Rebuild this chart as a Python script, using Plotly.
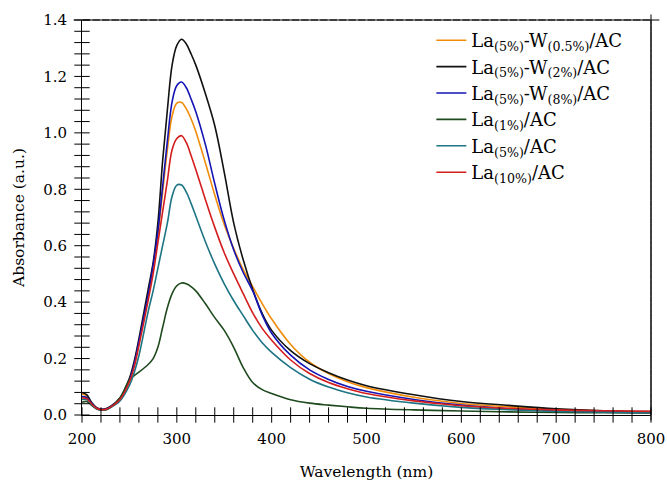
import plotly.graph_objects as go

# Wavelength grid (nm)
wavelength = [200, 205, 210, 215, 220, 225, 230, 240, 250, 255, 260, 270, 275, 280, 285,
              290, 295, 300, 305, 310, 315, 320, 330, 340, 350, 360, 370, 380, 390, 400,
              420, 440, 460, 480, 500, 550, 600, 650, 700, 750, 800]

# Absorbance spectra (a.u.)
la5_w05 = [0.075, 0.068, 0.043, 0.026, 0.020, 0.021, 0.029, 0.058, 0.122, 0.18, 0.255, 0.43, 0.53, 0.64, 0.79,
           0.94, 1.06, 1.105, 1.108, 1.085, 1.05, 1.005, 0.895, 0.78, 0.675, 0.59, 0.515, 0.455, 0.395, 0.34,
           0.25, 0.187, 0.147, 0.118, 0.097, 0.063, 0.041, 0.029, 0.020, 0.014, 0.011]
la5_w2 = [0.080, 0.072, 0.045, 0.027, 0.021, 0.022, 0.030, 0.060, 0.130, 0.19, 0.27, 0.45, 0.54, 0.68, 0.90,
          1.08, 1.24, 1.31, 1.332, 1.315, 1.28, 1.24, 1.14, 1.025, 0.86, 0.68, 0.55, 0.445, 0.36, 0.30,
          0.228, 0.182, 0.150, 0.124, 0.104, 0.072, 0.048, 0.034, 0.022, 0.015, 0.012]
la5_w8 = [0.065, 0.062, 0.042, 0.026, 0.020, 0.021, 0.029, 0.058, 0.124, 0.18, 0.26, 0.43, 0.53, 0.65, 0.81,
          0.97, 1.11, 1.168, 1.18, 1.16, 1.12, 1.075, 0.96, 0.82, 0.69, 0.585, 0.505, 0.44, 0.355, 0.29,
          0.212, 0.16, 0.126, 0.101, 0.084, 0.055, 0.035, 0.022, 0.014, 0.010, 0.008]
la1 = [0.045, 0.048, 0.035, 0.022, 0.017, 0.018, 0.026, 0.060, 0.125, 0.14, 0.152, 0.18, 0.20, 0.24, 0.31,
       0.38, 0.43, 0.458, 0.468, 0.465, 0.455, 0.44, 0.395, 0.345, 0.30, 0.24, 0.168, 0.115, 0.09, 0.076,
       0.054, 0.042, 0.035, 0.029, 0.024, 0.018, 0.014, 0.011, 0.009, 0.008, 0.007]
la5 = [0.055, 0.055, 0.038, 0.024, 0.018, 0.019, 0.026, 0.050, 0.105, 0.15, 0.21, 0.37, 0.44, 0.52, 0.60,
       0.68, 0.775, 0.815, 0.815, 0.79, 0.75, 0.705, 0.615, 0.535, 0.465, 0.405, 0.352, 0.30, 0.256, 0.222,
       0.168, 0.127, 0.099, 0.079, 0.064, 0.042, 0.027, 0.019, 0.013, 0.010, 0.008]
la10 = [0.060, 0.058, 0.040, 0.025, 0.019, 0.020, 0.028, 0.055, 0.118, 0.17, 0.245, 0.41, 0.50, 0.61, 0.72,
        0.83, 0.94, 0.98, 0.99, 0.965, 0.92, 0.87, 0.765, 0.665, 0.575, 0.50, 0.43, 0.362, 0.307, 0.265,
        0.195, 0.147, 0.115, 0.093, 0.076, 0.050, 0.033, 0.024, 0.018, 0.015, 0.013]

series_names = [
    "La<sub>(5%)</sub>-W<sub>(0.5%)</sub>/AC",
    "La<sub>(5%)</sub>-W<sub>(2%)</sub>/AC",
    "La<sub>(5%)</sub>-W<sub>(8%)</sub>/AC",
    "La<sub>(1%)</sub>/AC",
    "La<sub>(5%)</sub>/AC",
    "La<sub>(10%)</sub>/AC",
]
series_values = [la5_w05, la5_w2, la5_w8, la1, la5, la10]
series_colors = ["#F08C0A", "#111111", "#1414B4", "#1E4A1E", "#1C7484", "#D41E1E"]

# Axis ranges and tick spacing
x_range = [200, 800]
y_range = [0.0, 1.4]
x_major = 100
x_minor = 20
y_major = 0.2
y_minor = 0.04

FONT = "DejaVu Serif"

fig = go.Figure()
for name, vals, col in zip(series_names, series_values, series_colors):
    fig.add_trace(go.Scatter(
        x=wavelength, y=vals, name=name, mode="lines",
        line=dict(color=col, width=1.6, shape="spline", smoothing=1.0),
    ))

# Cross-shaped tick marks straddling the bottom and left axis lines
n_x = int(round((x_range[1] - x_range[0]) / x_minor))
x_tick_pos = [x_range[0] + i * x_minor for i in range(n_x + 1)]
n_y = int(round((y_range[1] - y_range[0]) / y_minor))
y_tick_pos = [round(y_range[0] + i * y_minor, 4) for i in range(n_y + 1)]

fig.add_trace(go.Scatter(
    x=x_tick_pos, y=[y_range[0]] * len(x_tick_pos), mode="markers",
    marker=dict(symbol="line-ns", size=11, color="black", line=dict(width=1, color="black")),
    cliponaxis=False, showlegend=False, hoverinfo="skip"))
fig.add_trace(go.Scatter(
    x=[x_range[0]] * len(y_tick_pos), y=y_tick_pos, mode="markers",
    marker=dict(symbol="line-ew", size=11, color="black", line=dict(width=1, color="black")),
    cliponaxis=False, showlegend=False, hoverinfo="skip"))

# Top and right edges of the frame, built from overlapping short segments
top_x = [x_range[0] + i * x_minor / 2 for i in range(2 * n_x + 1)]
right_y = [round(y_range[0] + i * y_minor / 2, 4) for i in range(2 * n_y + 1)]
fig.add_trace(go.Scatter(
    x=top_x, y=[y_range[1]] * len(top_x), mode="markers",
    marker=dict(symbol="line-ew", size=12, color="black", line=dict(width=1, color="black")),
    cliponaxis=False, showlegend=False, hoverinfo="skip"))
fig.add_trace(go.Scatter(
    x=[x_range[1]] * len(right_y), y=right_y, mode="markers",
    marker=dict(symbol="line-ns", size=8, color="black", line=dict(width=1, color="black")),
    cliponaxis=False, showlegend=False, hoverinfo="skip"))

fig.update_xaxes(
    range=x_range, tickmode="linear", tick0=x_range[0], dtick=x_major,
    showgrid=False, zeroline=False, automargin=False,
    showline=True, linecolor="black", linewidth=1,
    ticks="outside", ticklen=10, tickwidth=1, tickcolor="rgba(0,0,0,0)",
    tickfont=dict(family=FONT, size=15, color="black"),
    title=dict(text="Wavelength (nm)", font=dict(family=FONT, size=15.5, color="black"), standoff=29),
)
fig.update_yaxes(
    range=y_range, tickmode="linear", tick0=y_range[0], dtick=y_major, tickformat=".1f",
    showgrid=False, zeroline=False, automargin=False,
    showline=True, linecolor="black", linewidth=1,
    ticks="outside", ticklen=11, tickwidth=1, tickcolor="rgba(0,0,0,0)",
    tickfont=dict(family=FONT, size=15, color="black"),
    title=dict(text="Absorbance (a.u.)", font=dict(family=FONT, size=15.5, color="black"), standoff=14),
)

fig.update_layout(
    width=667, height=481,
    margin=dict(l=82, r=16, t=20, b=66),
    paper_bgcolor="white", plot_bgcolor="white",
    font=dict(family=FONT, size=15, color="black"),
    legend=dict(x=0.614, y=0.995, xanchor="left", yanchor="top",
                bgcolor="rgba(0,0,0,0)", font=dict(size=18, family=FONT),
                tracegroupgap=0),
    showlegend=True,
)

fig.write_html("out.html")
